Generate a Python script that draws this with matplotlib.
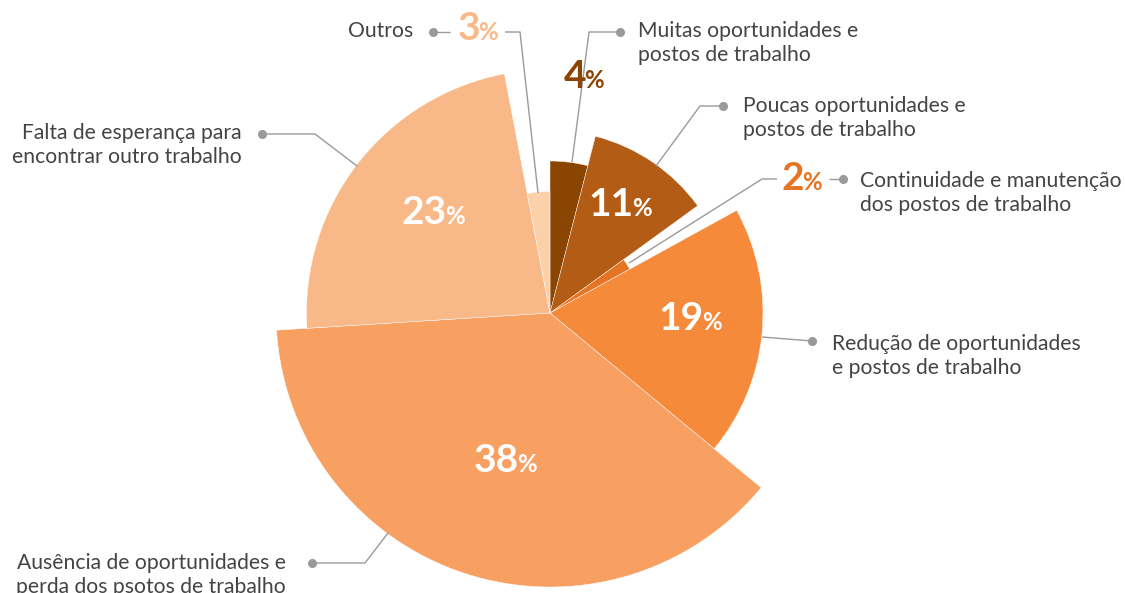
import numpy as np
import matplotlib
matplotlib.use('Agg')
import matplotlib.pyplot as plt
import matplotlib.patheffects as pe
from matplotlib.offsetbox import TextArea, HPacker, AnnotationBbox

plt.rcParams['font.family'] = ['Lato', 'DejaVu Sans']

# dados
categorias = ['Muitas oportunidades e\npostos de trabalho',
              'Poucas oportunidades e\npostos de trabalho',
              'Continuidade e manutenção\ndos postos de trabalho',
              'Redução de oportunidades\ne postos de trabalho',
              'Ausência de oportunidades e\nperda dos psotos de trabalho',
              'Falta de esperança para\nencontrar outro trabalho',
              'Outros']
valores = [4, 11, 2, 19, 38, 23, 3]
cores = ['#8B4502', '#B35C16', '#E57525', '#F58A3A', '#F7A062', '#F9B887', '#FCD1AA']

W, H = 1125, 593
cx, cy = 550, H - 313

def P(x, y):
    # coordenadas em pixels da imagem (y para baixo)
    return (x, H - y)

fig = plt.figure(figsize=(W / 100, H / 100), dpi=100)
ax = fig.add_axes([0, 0, 1, 1])

wedges, _ = ax.pie(valores, colors=cores, startangle=90, counterclock=False,
                   center=(cx, cy), radius=100,
                   wedgeprops=dict(linewidth=0.3, edgecolor='white'))

# raio de cada fatia segundo a ordem do valor
ordem = np.argsort(np.argsort(valores))
raios = 91 + 30.5 * ordem
for w, r in zip(wedges, raios):
    w.set_radius(r)

ax.set_xlim(0, W)
ax.set_ylim(0, H)
ax.set_aspect('equal')
ax.axis('off')

cinza = '#9A9A9A'
txt = '#444444'

def linha(pts, dot, branco=False):
    xs = [P(*p)[0] for p in pts]
    ys = [P(*p)[1] for p in pts]
    kw = {}
    if branco:
        kw['path_effects'] = [pe.Stroke(linewidth=4, foreground='white'), pe.Normal()]
    ax.plot(xs, ys, color=cinza, lw=1, zorder=5, solid_capstyle='butt', **kw)
    if dot:
        ax.plot(xs[-1], ys[-1], 'o', color=cinza, ms=5.5, zorder=6)

def pct(v, x, y, cor, fs=28):
    a = TextArea(str(v), textprops=dict(color=cor, fontsize=fs, fontweight='bold'))
    b = TextArea('%', textprops=dict(color=cor, fontsize=fs * 0.62, fontweight='bold'))
    box = HPacker(children=[a, b], align='baseline', pad=0, sep=-1.5)
    ab = AnnotationBbox(box, P(x, y), frameon=False, box_alignment=(0.5, 0.5), zorder=7)
    ax.add_artist(ab)

def rotulo(s, x, y, ha='left'):
    ax.text(*P(x, y), s, ha=ha, va='center', fontsize=15.2, color=txt,
            linespacing=1.22, zorder=7)

# percentuais dentro das fatias
pct(valores[1], 620, 205, 'white')
pct(valores[3], 690, 318, 'white')
pct(valores[4], 505, 460, 'white')
pct(valores[5], 433, 213, 'white')

# fatias pequenas com rótulo fora
pct(valores[0], 584, 77, cores[0])
pct(valores[6], 478, 28, cores[5])
pct(valores[2], 802, 179, cores[2])

# linhas de chamada
linha([(572, 162), (589, 32), (620, 32)], True)
linha([(538, 193), (520, 32), (505, 32)], False)
linha([(450, 32), (433, 32)], True)
linha([(656, 166), (700, 106), (723, 106)], True)
linha([(629, 263), (762, 179), (777, 179)], False, branco=True)
linha([(829, 179), (843, 179)], True)
linha([(762, 337), (812, 341)], True)
linha([(388, 533), (365, 563), (312, 563)], True)
linha([(357, 166), (315, 134), (262, 134)], True)

# textos das categorias
rotulo(categorias[0], 638, 43)
rotulo(categorias[1], 743, 118)
rotulo(categorias[2], 860, 193)
rotulo(categorias[3], 832, 356)
rotulo(categorias[4], 286, 575, ha='right')
rotulo(categorias[5], 242, 145, ha='right')
rotulo(categorias[6], 413, 31, ha='right')

fig.savefig('out.png', dpi=100)
